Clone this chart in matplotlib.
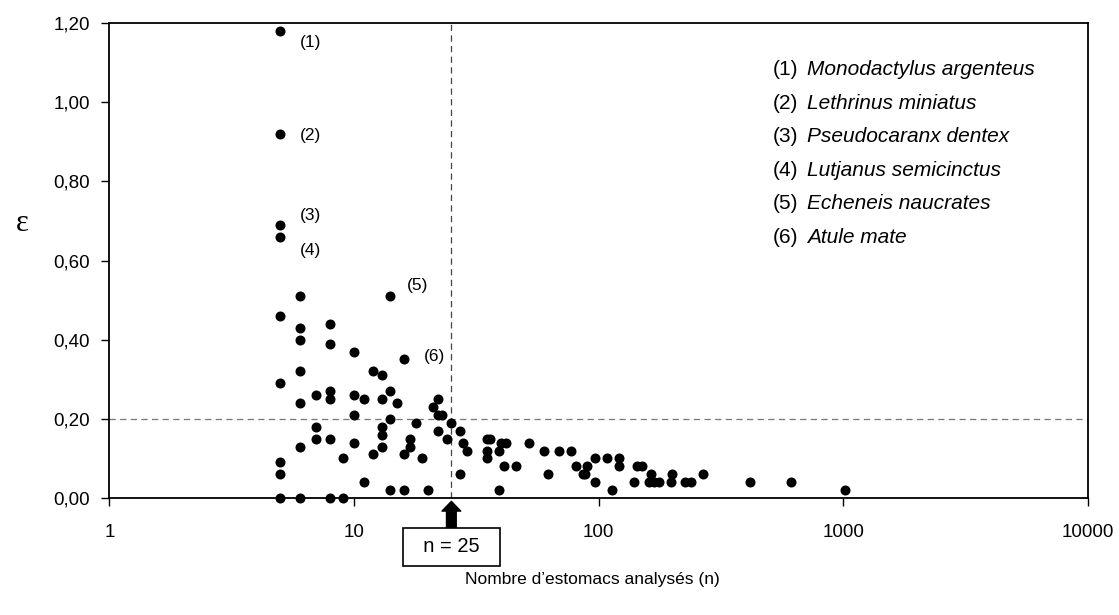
import matplotlib
matplotlib.use("Agg")
from matplotlib import pyplot as plt
from matplotlib.ticker import FixedLocator, FuncFormatter

# nombre d'estomacs (n) et epsilon
n_vals = [5, 5, 5, 5, 5, 5, 5, 5, 5,
          6, 6, 6, 6, 6, 6, 6,
          7, 7, 7,
          8, 8, 8, 8, 8, 8,
          9, 9,
          10, 10, 10, 10,
          11, 11,
          12, 12,
          13, 13, 13, 13, 13,
          14, 14, 14, 14,
          15, 16, 16, 16,
          17, 17, 18, 19, 20,
          21, 22, 22, 22, 23, 24, 25, 27, 27, 28, 29,
          35, 36, 35, 35, 39, 39, 40, 42, 41, 46, 52,
          60, 62, 69, 77, 81, 86, 88, 90, 97, 97, 108, 113,
          121, 121, 139, 144, 150, 160, 163, 168, 176, 197, 200,
          226, 238, 267, 414, 613, 1019]
eps_vals = [1.18, 0.92, 0.69, 0.66, 0.46, 0.29, 0.09, 0.06, 0.00,
            0.51, 0.43, 0.40, 0.32, 0.24, 0.13, 0.00,
            0.26, 0.18, 0.15,
            0.44, 0.39, 0.27, 0.25, 0.15, 0.00,
            0.10, 0.00,
            0.37, 0.26, 0.21, 0.14,
            0.25, 0.04,
            0.32, 0.11,
            0.31, 0.25, 0.18, 0.16, 0.13,
            0.51, 0.27, 0.20, 0.02,
            0.24, 0.35, 0.11, 0.02,
            0.15, 0.13, 0.19, 0.10, 0.02,
            0.23, 0.25, 0.21, 0.17, 0.21, 0.15, 0.19, 0.17, 0.06, 0.14, 0.12,
            0.15, 0.15, 0.12, 0.10, 0.12, 0.02, 0.14, 0.14, 0.08, 0.08, 0.14,
            0.12, 0.06, 0.12, 0.12, 0.08, 0.06, 0.06, 0.08, 0.10, 0.04, 0.10, 0.02,
            0.10, 0.08, 0.04, 0.08, 0.08, 0.04, 0.06, 0.04, 0.04, 0.04, 0.06,
            0.04, 0.04, 0.06, 0.04, 0.04, 0.02]

# especes annotees
lab_n = [5, 5, 5, 5, 14, 16]
lab_eps = [1.18, 0.92, 0.69, 0.66, 0.51, 0.35]
lab_txt = ["(1)", "(2)", "(3)", "(4)", "(5)", "(6)"]
lab_off = [(14, -8), (14, -1), (14, 7), (14, -10), (12, 8), (14, 2)]

species = ["Monodactylus argenteus", "Lethrinus miniatus", "Pseudocaranx dentex",
           "Lutjanus semicinctus", "Echeneis naucrates", "Atule mate"]

x_ticks = [1, 10, 100, 1000, 10000]
y_ticks = [0, 0.2, 0.4, 0.6, 0.8, 1.0, 1.2]
n_seuil = 25
eps_seuil = 0.20

plt.rcParams['font.family'] = ['Liberation Sans', 'DejaVu Sans']

fig = plt.figure(figsize=(11.19, 6.15), dpi=100, facecolor='w')
ax = fig.add_axes([0.0977, 0.1902, 0.8746, 0.7724])

ax.set_xscale('log')
ax.set_xlim(1, 10000)
ax.set_ylim(0, 1.2)

# lignes de seuil
ax.axvline(n_seuil, color='#444444', linestyle=(0, (5, 3.5)), linewidth=0.9, zorder=1)
ax.axhline(eps_seuil, color='#777777', linestyle=(0, (5, 3.5)), linewidth=0.9, zorder=1)

ax.plot(n_vals, eps_vals, 'o', color='black', markersize=6.2, clip_on=False, zorder=3)

for xv, yv, t, off in zip(lab_n, lab_eps, lab_txt, lab_off):
    ax.annotate(t, (xv, yv), xytext=off, textcoords='offset points',
                fontsize=12.5, va='center', ha='left')

# liste des especes
for i, (t, sp) in enumerate(zip(lab_txt, species)):
    yy = 0.902 - i * 0.0705
    ax.text(0.678, yy, t, transform=ax.transAxes, fontsize=15, va='center')
    ax.text(0.713, yy, sp, transform=ax.transAxes, fontsize=15, va='center',
            style='italic')

ax.xaxis.set_major_locator(FixedLocator(x_ticks))
ax.xaxis.set_minor_locator(FixedLocator([]))
ax.xaxis.set_major_formatter(FuncFormatter(lambda v, p: "%d" % v))
ax.yaxis.set_major_locator(FixedLocator(y_ticks))
ax.yaxis.set_major_formatter(FuncFormatter(lambda v, p: ("%.2f" % v).replace(".", ",")))
ax.tick_params(axis='x', direction='out', length=6, width=1, pad=13, labelsize=13.5)
ax.tick_params(axis='y', direction='out', length=6, width=1, pad=8, labelsize=13.5)
for s in ax.spines.values():
    s.set_linewidth(1.3)

# fleche n = 25
ax.annotate('', xy=(n_seuil, -0.007), xycoords=('data', 'axes fraction'),
            xytext=(n_seuil, -0.063), textcoords=('data', 'axes fraction'),
            arrowprops=dict(arrowstyle='simple,head_width=1.35,head_length=0.7,tail_width=0.7',
                            mutation_scale=10, color='black', shrinkA=0, shrinkB=0))
ax.text(n_seuil, -0.103, "  n = 25  ", transform=ax.get_xaxis_transform(),
        ha='center', va='center', fontsize=14.5,
        bbox=dict(boxstyle='square,pad=0.45', facecolor='white', edgecolor='black',
                  linewidth=1.2))

fig.text(0.020, 0.636, "\u03b5", fontsize=22, family='Liberation Serif', ha='center', va='center')
fig.text(0.529, 0.057, "Nombre d\u2019estomacs analysés (n)", fontsize=12.5, ha='center', va='center')

plt.savefig('out.png')
